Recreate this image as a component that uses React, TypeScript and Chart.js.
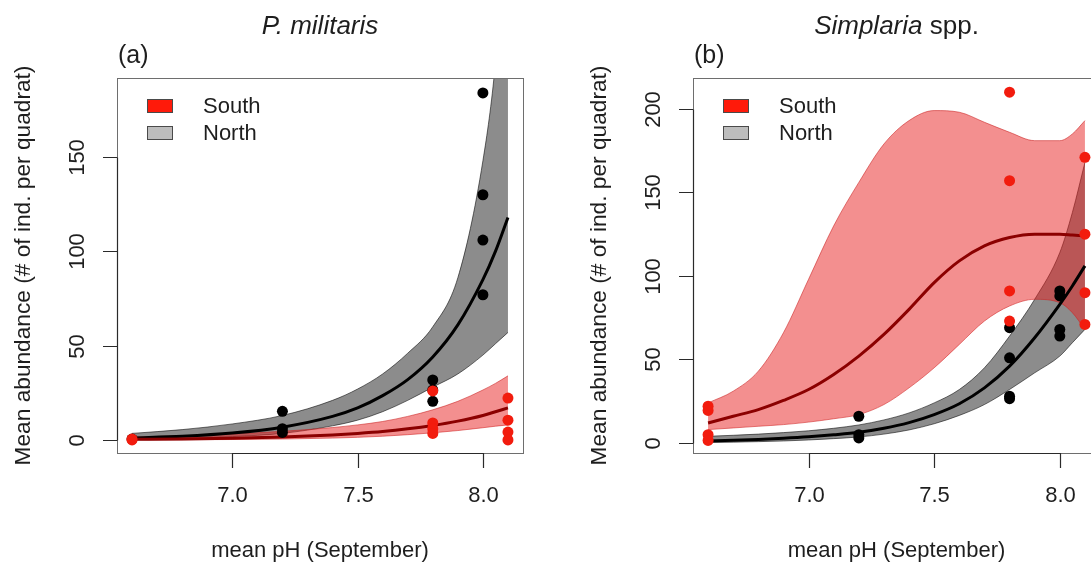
import React, { useEffect, useRef } from "react";
import { Chart, registerables } from "chart.js";

Chart.register(...registerables);

// ---------------- Data ----------------
const xTicks = [7.0, 7.5, 8.0];
const xTickLabels = ["7.0", "7.5", "8.0"];
const yTicksA = [0, 50, 100, 150];
const yTicksB = [0, 50, 100, 150, 200];
const legendLabels = ["South", "North"];
const xAxisTitle = "mean pH (September)";
const yAxisTitle = "Mean abundance (# of ind. per quadrat)";

// Panel (a) P. militaris — observed abundances
const aNorthX = [6.6, 7.2, 7.2, 7.2, 7.8, 7.8, 7.8, 8.0, 8.0, 8.0, 8.0];
const aNorthY = [0.5, 15.2, 6, 4, 31.8, 26.5, 20.5, 184, 130, 106, 77];
const aSouthX = [6.6, 6.6, 7.8, 7.8, 7.8, 7.8, 8.1, 8.1, 8.1, 8.1];
const aSouthY = [0, 0.5, 26, 9, 6, 3.5, 22.2, 10.5, 4.2, 0];
// Panel (a) fitted curves and confidence bands
const aCurveX = [6.6, 6.8, 7.0, 7.2, 7.4, 7.5, 7.6, 7.7, 7.8, 7.9, 8.0, 8.05, 8.1];
const aNorthFit = [1.1, 2.0, 3.7, 6.8, 12.5, 17, 23.5, 32, 44, 61, 85, 100, 118];
const aNorthLo = [0.3, 0.8, 1.8, 3.5, 7.5, 10.5, 15, 21, 28, 35, 45, 51, 57];
const aNorthHi = [3.5, 5.5, 8.5, 13, 21, 27, 35, 46, 60, 86, 148, 200, 290];
const aSouthFit = [0.33, 0.55, 0.95, 1.6, 2.7, 3.5, 4.5, 5.9, 7.7, 10, 13, 15, 17];
const aSouthLo = [0.05, 0.1, 0.25, 0.5, 1, 1.4, 2, 2.8, 3.8, 5, 6.5, 7.3, 8];
const aSouthHi = [1.5, 2.2, 3.2, 4.6, 6.6, 8, 9.8, 12.5, 16, 20.5, 26.5, 30, 34];

// Panel (b) Simplaria spp. — observed abundances
const bNorthX = [7.2, 7.2, 7.2, 7.8, 7.8, 7.8, 7.8, 8.0, 8.0, 8.0, 8.0];
const bNorthY = [16, 5, 3, 69, 51, 28, 26.5, 91, 88, 68, 64];
const bSouthX = [6.6, 6.6, 6.6, 6.6, 7.8, 7.8, 7.8, 7.8, 8.1, 8.1, 8.1, 8.1];
const bSouthY = [22, 19.5, 5, 1.5, 210, 157, 91, 73, 171, 125, 90, 71];
// Panel (b) fitted curves and confidence bands
const bCurveX = [6.6, 6.7, 6.8, 6.9, 7.0, 7.1, 7.2, 7.3, 7.4, 7.5, 7.6, 7.7, 7.8, 7.9, 8.0, 8.05, 8.1];
const bNorthFit = [1.2, 1.6, 2.1, 2.8, 3.7, 4.9, 6.4, 8.8, 12.2, 17, 23.5, 33, 46, 63, 83, 94, 106];
const bNorthLo = [0.3, 0.5, 0.8, 1.2, 1.8, 2.6, 3.6, 5.3, 7.8, 11.5, 16.5, 23, 32, 42, 52, 60, 68];
const bNorthHi = [4, 4.6, 5.3, 6.2, 7.3, 8.8, 10.8, 13.8, 18, 24, 32, 45, 64, 86, 114, 138, 168];
const bSouthFit = [12, 16, 20, 25.5, 32, 41, 52, 65, 80, 96, 109, 118, 123, 125, 125, 124.5, 124];
const bSouthLo = [8, 9, 10, 11, 12.5, 14.5, 17, 23, 33, 45, 59, 73, 82, 86, 84, 78, 68];
const bSouthHi = [24, 31, 43, 66, 98, 130, 156, 179, 193, 199, 198, 192, 186, 181, 181, 185, 193];

// ---------------- Styling ----------------
const FONT = '"Liberation Sans", Arial, Helvetica, sans-serif';
const TEXT = "#1e1e1e";
const RED_PT = "#f21c0e";
const RED_LINE = "#8b0000";
const RED_BAND = "rgba(232, 32, 32, 0.5)";
const RED_BAND_EDGE = "rgba(200, 30, 30, 0.55)";
const GRAY_BAND = "rgba(0, 0, 0, 0.45)";
const GRAY_BAND_EDGE = "rgba(0, 0, 0, 0.55)";

const CANVAS_W = 576;
const CANVAS_H = 566;

type Panel = {
  letter: string;
  titleItalic: string;
  titleRest: string;
  yMin: number;
  yMax: number;
  yTicks: number[];
  curveX: number[];
  northFit: number[];
  northLo: number[];
  northHi: number[];
  southFit: number[];
  southLo: number[];
  southHi: number[];
  northX: number[];
  northY: number[];
  southX: number[];
  southY: number[];
  plotRight: number;
};

const panelA: Panel = {
  letter: "(a)",
  titleItalic: "P. militaris",
  titleRest: "",
  yMin: -6.9,
  yMax: 191.9,
  yTicks: yTicksA,
  curveX: aCurveX,
  northFit: aNorthFit,
  northLo: aNorthLo,
  northHi: aNorthHi,
  southFit: aSouthFit,
  southLo: aSouthLo,
  southHi: aSouthHi,
  northX: aNorthX,
  northY: aNorthY,
  southX: aSouthX,
  southY: aSouthY,
  plotRight: 523,
};

const panelB: Panel = {
  letter: "(b)",
  titleItalic: "Simplaria",
  titleRest: " spp.",
  yMin: -6,
  yMax: 218.5,
  yTicks: yTicksB,
  curveX: bCurveX,
  northFit: bNorthFit,
  northLo: bNorthLo,
  northHi: bNorthHi,
  southFit: bSouthFit,
  southLo: bSouthLo,
  southHi: bSouthHi,
  northX: bNorthX,
  northY: bNorthY,
  southX: bSouthX,
  southY: bSouthY,
  plotRight: 524,
};

const pts = (xs: number[], ys: number[]) => xs.map((x, i) => ({ x, y: ys[i] }));

const decorPlugin = {
  id: "decor",
  afterDraw(chart: any, _args: any, opts: any) {
    const p: Panel = opts.panel;
    const { ctx, chartArea: ca, scales } = chart;
    const xs = scales.x;
    const ys = scales.y;
    const L = Math.round(ca.left);
    const T = Math.round(ca.top);
    const R = Math.round(ca.right);
    const B = Math.round(ca.bottom);
    ctx.save();

    // plot box
    ctx.strokeStyle = "#6e6e6e";
    ctx.lineWidth = 1;
    ctx.strokeRect(L + 0.5, T + 0.5, R - L, B - T);

    // x axis
    ctx.strokeStyle = "#2a2a2a";
    ctx.lineWidth = 1.2;
    const xp = xTicks.map((v) => Math.round(xs.getPixelForValue(v)) + 0.5);
    ctx.beginPath();
    ctx.moveTo(xp[0], B + 0.5);
    ctx.lineTo(xp[xp.length - 1], B + 0.5);
    xp.forEach((px) => {
      ctx.moveTo(px, B);
      ctx.lineTo(px, B + 15);
    });
    ctx.stroke();

    // y axis
    const yp = p.yTicks.map((v) => Math.round(ys.getPixelForValue(v)) + 0.5);
    ctx.beginPath();
    ctx.moveTo(L + 0.5, yp[0]);
    ctx.lineTo(L + 0.5, yp[yp.length - 1]);
    yp.forEach((py) => {
      ctx.moveTo(L, py);
      ctx.lineTo(L - 14, py);
    });
    ctx.stroke();

    ctx.fillStyle = TEXT;
    ctx.font = `22px ${FONT}`;
    ctx.textAlign = "center";
    ctx.textBaseline = "middle";
    // x tick labels
    xp.forEach((px, i) => ctx.fillText(xTickLabels[i], px, B + 43));
    // y tick labels (rotated)
    yp.forEach((py, i) => {
      ctx.save();
      ctx.translate(L - 39, py);
      ctx.rotate(-Math.PI / 2);
      ctx.fillText(String(p.yTicks[i]), 0, 0);
      ctx.restore();
    });

    // axis titles
    ctx.fillText(xAxisTitle, (L + R) / 2, B + 98);
    ctx.save();
    ctx.font = `22.7px ${FONT}`;
    ctx.translate(24, (T + B) / 2);
    ctx.rotate(-Math.PI / 2);
    ctx.fillText(yAxisTitle, 0, 0);
    ctx.restore();

    // panel letter
    ctx.textAlign = "left";
    ctx.font = `25px ${FONT}`;
    ctx.fillText(p.letter, L + 1, T - 22);

    // main title (italic part + plain part)
    const italicFont = `italic 26px ${FONT}`;
    const plainFont = `26px ${FONT}`;
    ctx.font = italicFont;
    const w1 = ctx.measureText(p.titleItalic).width;
    ctx.font = plainFont;
    const w2 = p.titleRest ? ctx.measureText(p.titleRest).width : 0;
    const startX = (L + R) / 2 - (w1 + w2) / 2;
    ctx.font = italicFont;
    ctx.fillText(p.titleItalic, startX, T - 51);
    if (p.titleRest) {
      ctx.font = plainFont;
      ctx.fillText(p.titleRest, startX + w1, T - 51);
    }

    // legend
    const lx = L + 30;
    const boxW = 26;
    const boxH = 14;
    const rows = [
      { y: T + 21, fill: "#ff1a0a", label: legendLabels[0] },
      { y: T + 48, fill: "#bdbdbd", label: legendLabels[1] },
    ];
    ctx.font = `22px ${FONT}`;
    rows.forEach((r) => {
      ctx.fillStyle = r.fill;
      ctx.fillRect(lx, r.y, boxW, boxH);
      ctx.strokeStyle = "#4a4a4a";
      ctx.lineWidth = 1;
      ctx.strokeRect(lx + 0.5, r.y + 0.5, boxW - 1, boxH - 1);
      ctx.fillStyle = TEXT;
      ctx.fillText(r.label, L + 86, r.y + boxH / 2 + 0.5);
    });

    ctx.restore();
  },
};

function buildConfig(p: Panel): any {
  const lineBase = {
    pointRadius: 0,
    pointHoverRadius: 0,
    cubicInterpolationMode: "monotone" as const,
  };
  const band = (ys: number[], fill: any, bg: string, edge: string) => ({
    ...lineBase,
    data: pts(p.curveX, ys),
    borderColor: edge,
    borderWidth: 1,
    backgroundColor: bg,
    fill,
  });
  return {
    type: "line",
    data: {
      datasets: [
        {
          label: "South",
          data: pts(p.southX, p.southY),
          showLine: false,
          pointRadius: 5.5,
          pointBorderWidth: 0,
          pointBackgroundColor: RED_PT,
          backgroundColor: RED_PT,
        },
        {
          label: "North",
          data: pts(p.northX, p.northY),
          showLine: false,
          pointRadius: 5.5,
          pointBorderWidth: 0,
          pointBackgroundColor: "#000",
          backgroundColor: "#000",
        },
        { ...lineBase, label: "South fit", data: pts(p.curveX, p.southFit), borderColor: RED_LINE, borderWidth: 3, fill: false },
        { ...lineBase, label: "North fit", data: pts(p.curveX, p.northFit), borderColor: "#000", borderWidth: 3, fill: false },
        { ...band(p.southHi, "+1", RED_BAND, RED_BAND_EDGE), label: "South upper" },
        { ...band(p.southLo, false, RED_BAND, RED_BAND_EDGE), label: "South lower" },
        { ...band(p.northHi, "+1", GRAY_BAND, GRAY_BAND_EDGE), label: "North upper" },
        { ...band(p.northLo, false, GRAY_BAND, GRAY_BAND_EDGE), label: "North lower" },
      ],
    },
    options: {
      animation: false,
      responsive: false,
      maintainAspectRatio: false,
      devicePixelRatio: 1,
      events: [],
      layout: {
        padding: { left: 117, top: 78, right: CANVAS_W - p.plotRight, bottom: CANVAS_H - 453 },
      },
      scales: {
        x: { type: "linear", min: 6.54, max: 8.16, display: false },
        y: { type: "linear", min: p.yMin, max: p.yMax, display: false },
      },
      plugins: {
        legend: { display: false },
        tooltip: { enabled: false },
        title: { display: false },
        decor: { panel: p },
      },
    },
    plugins: [decorPlugin],
  };
}

function PanelChart({ panel, left }: { panel: Panel; left: number }) {
  const ref = useRef<HTMLCanvasElement | null>(null);
  useEffect(() => {
    if (!ref.current) return;
    const chart = new Chart(ref.current, buildConfig(panel));
    return () => chart.destroy();
  }, [panel]);
  return (
    <canvas
      ref={ref}
      width={CANVAS_W}
      height={CANVAS_H}
      style={{ position: "absolute", left, top: 0, width: CANVAS_W, height: CANVAS_H }}
    />
  );
}

export default function App() {
  return (
    <div
      style={{
        position: "absolute",
        left: 0,
        top: 0,
        width: 1091,
        height: 566,
        overflow: "hidden",
        background: "#ffffff",
      }}
    >
      <PanelChart panel={panelA} left={0} />
      <PanelChart panel={panelB} left={576} />
    </div>
  );
}
